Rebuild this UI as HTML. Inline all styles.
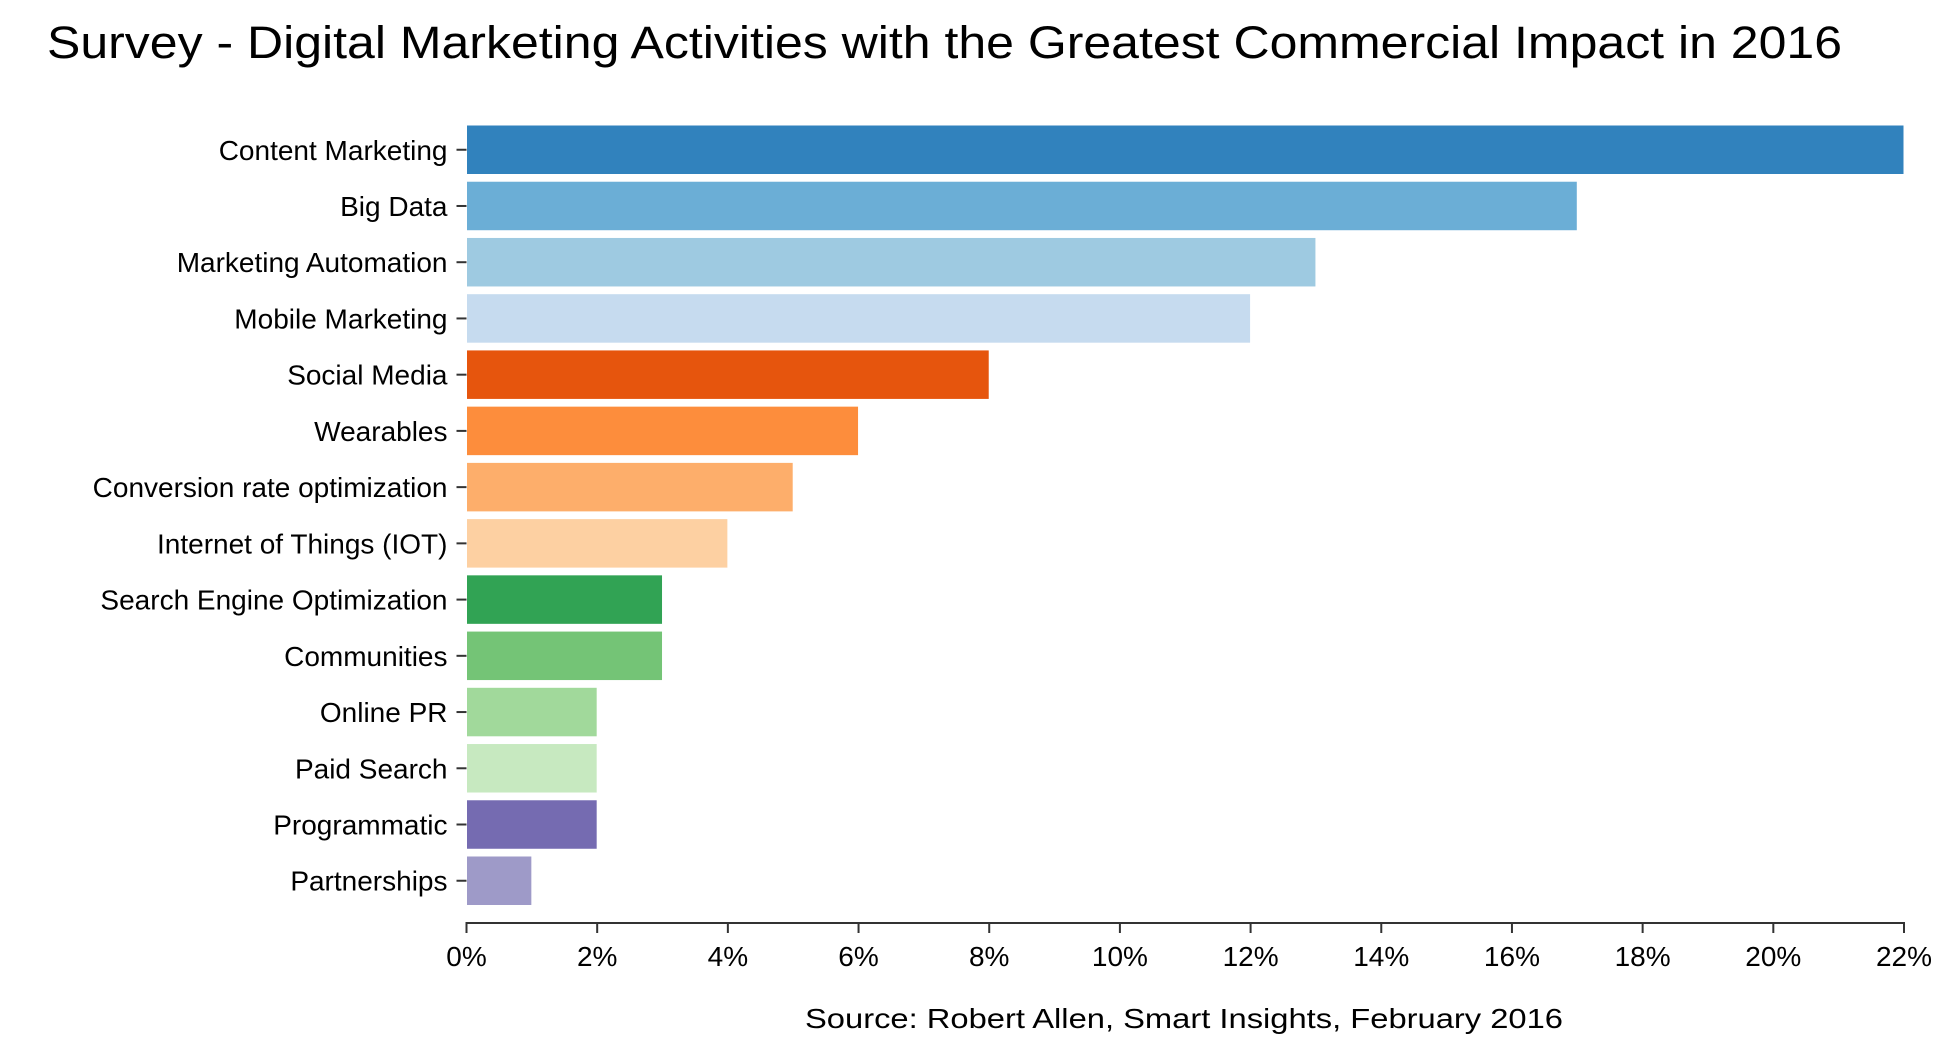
<!DOCTYPE html>
<html><head><meta charset="utf-8"><style>
html,body{margin:0;padding:0;background:#fff;}
svg{display:block;font-family:"Liberation Sans",sans-serif;}
</style></head><body>
<svg id="chart" width="1954" height="1046" viewBox="0 0 1954 1046">
<text x="47" y="58" font-size="45" fill="#000" textLength="1795" lengthAdjust="spacingAndGlyphs">Survey - Digital Marketing Activities with the Greatest Commercial Impact in 2016</text>
<g id="bars"></g>
<g id="yaxis"></g>
<g id="xaxis"></g>
<text x="1184" y="1028" font-size="28" text-anchor="middle" fill="#000" textLength="758" lengthAdjust="spacingAndGlyphs">Source: Robert Allen, Smart Insights, February 2016</text>
</svg>
<script>
const categories = ["Content Marketing","Big Data","Marketing Automation","Mobile Marketing","Social Media","Wearables","Conversion rate optimization","Internet of Things (IOT)","Search Engine Optimization","Communities","Online PR","Paid Search","Programmatic","Partnerships"];
const values = [22,17,13,12,8,6,5,4,3,3,2,2,2,1];
const colors = ["#3182bd","#6baed6","#9ecae1","#c6dbef","#e6550d","#fd8d3c","#fdae6b","#fdd0a2","#31a354","#74c476","#a1d99b","#c7e9c0","#756bb1","#9e9ac8"];
const xTicks = [0,2,4,6,8,10,12,14,16,18,20,22];

const NS = "http://www.w3.org/2000/svg";
const x0 = 466.5, x1 = 1904, xMax = 22;
const xScale = v => x0 + (v / xMax) * (x1 - x0);
const yTop = 125, step = 56.23, barH = 49.5;
const yScale = i => yTop + i * step;

const bars = document.getElementById('bars');
const yaxis = document.getElementById('yaxis');
const xaxis = document.getElementById('xaxis');

categories.forEach((c, i) => {
  const r = document.createElementNS(NS, 'rect');
  r.setAttribute('x', xScale(0));
  r.setAttribute('y', yScale(i));
  r.setAttribute('width', xScale(values[i]) - xScale(0));
  r.setAttribute('height', barH);
  r.setAttribute('fill', colors[i]);
  r.setAttribute('stroke', '#fff');
  r.setAttribute('stroke-width', '1');
  
  
  bars.appendChild(r);

  const cy = yScale(i) + barH / 2;
  const t = document.createElementNS(NS, 'line');
  t.setAttribute('x1', x0 - 10); t.setAttribute('x2', x0);
  t.setAttribute('y1', cy); t.setAttribute('y2', cy);
  t.setAttribute('stroke', '#333'); t.setAttribute('stroke-width', '2');
  
  
  yaxis.appendChild(t);

  const l = document.createElementNS(NS, 'text');
  l.setAttribute('x', x0 - 19);
  l.setAttribute('y', cy + 10);
  l.setAttribute('text-anchor', 'end');
  l.setAttribute('font-size', '28');
  l.textContent = c;
  
  
  yaxis.appendChild(l);
});

const axisY = 923;
const dom = document.createElementNS(NS, 'path');
dom.setAttribute('d', `M${x0},${axisY + 10}V${axisY}H${x1}V${axisY + 10}`);
dom.setAttribute('fill', 'none'); dom.setAttribute('stroke', '#333'); dom.setAttribute('stroke-width', '2');


xaxis.appendChild(dom);

xTicks.forEach(v => {
  const tx = xScale(v);
  const t = document.createElementNS(NS, 'line');
  t.setAttribute('x1', tx); t.setAttribute('x2', tx);
  t.setAttribute('y1', axisY); t.setAttribute('y2', axisY + 10);
  t.setAttribute('stroke', '#333'); t.setAttribute('stroke-width', '2');
  
  
  xaxis.appendChild(t);
  const l = document.createElementNS(NS, 'text');
  l.setAttribute('x', tx);
  l.setAttribute('y', 966);
  l.setAttribute('text-anchor', 'middle');
  l.setAttribute('font-size', '28');
  l.textContent = v + '%';
  
  
  xaxis.appendChild(l);
});
</script>
</body></html>
